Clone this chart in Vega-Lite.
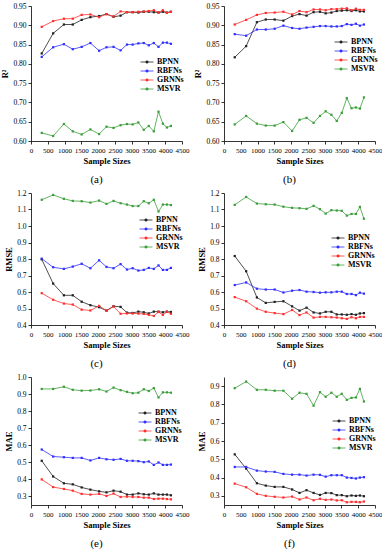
{
  "$schema": "https://vega.github.io/schema/vega-lite/v6.json",
  "padding": {"left": 0, "top": 2, "right": 0, "bottom": 2},
  "background": "white",
  "config": {
    "view": {"stroke": null},
    "font": "Liberation Serif",
    "axis": {"grid": false, "labelFont": "Liberation Serif", "labelFontSize": 7.5, "labelColor": "#000", "titleFont": "Liberation Serif", "titleFontSize": 8.5, "titleFontWeight": "bold", "titleColor": "#000", "domainColor": "#000", "tickColor": "#000", "tickSize": 3, "domainWidth": 0.8, "tickWidth": 0.8, "labelPadding": 2, "titlePadding": 3, "labelOverlap": false, "labelFlush": false},
    "axisX": {"labelFontSize": 7, "format": "d"},
    "legend": {"labelFont": "Liberation Serif", "labelFontSize": 8, "labelFontWeight": "bold", "labelColor": "#000", "symbolType": "M-2,0H2M-0.3,-0.3H0.3V0.3H-0.3Z", "symbolSize": 42, "symbolStrokeWidth": 0.8, "labelOffset": 6, "rowPadding": 1, "padding": 0},
    "title": {"font": "Liberation Serif", "fontSize": 11, "fontWeight": "normal", "color": "#000"}
  },
  "data": {"values": [
    {"p":"a","n":320,"BPNN":0.827,"RBFNs":0.818,"GRNNs":0.896,"MSVR":0.621},
    {"p":"a","n":660,"BPNN":0.879,"RBFNs":0.843,"GRNNs":0.911,"MSVR":0.613},
    {"p":"a","n":980,"BPNN":0.902,"RBFNs":0.851,"GRNNs":0.917,"MSVR":0.644},
    {"p":"a","n":1245,"BPNN":0.902,"RBFNs":0.838,"GRNNs":0.917,"MSVR":0.625},
    {"p":"a","n":1510,"BPNN":0.914,"RBFNs":0.844,"GRNNs":0.927,"MSVR":0.617},
    {"p":"a","n":1770,"BPNN":0.921,"RBFNs":0.854,"GRNNs":0.928,"MSVR":0.630},
    {"p":"a","n":2030,"BPNN":0.924,"RBFNs":0.834,"GRNNs":0.921,"MSVR":0.618},
    {"p":"a","n":2250,"BPNN":0.929,"RBFNs":0.843,"GRNNs":0.929,"MSVR":0.637},
    {"p":"a","n":2460,"BPNN":0.922,"RBFNs":0.844,"GRNNs":0.923,"MSVR":0.634},
    {"p":"a","n":2670,"BPNN":0.925,"RBFNs":0.835,"GRNNs":0.936,"MSVR":0.641},
    {"p":"a","n":2860,"BPNN":0.934,"RBFNs":0.850,"GRNNs":0.934,"MSVR":0.644},
    {"p":"a","n":3030,"BPNN":0.934,"RBFNs":0.850,"GRNNs":0.934,"MSVR":0.643},
    {"p":"a","n":3200,"BPNN":0.933,"RBFNs":0.853,"GRNNs":0.935,"MSVR":0.648},
    {"p":"a","n":3360,"BPNN":0.935,"RBFNs":0.854,"GRNNs":0.936,"MSVR":0.629},
    {"p":"a","n":3510,"BPNN":0.935,"RBFNs":0.848,"GRNNs":0.937,"MSVR":0.639},
    {"p":"a","n":3660,"BPNN":0.934,"RBFNs":0.854,"GRNNs":0.939,"MSVR":0.625},
    {"p":"a","n":3800,"BPNN":0.933,"RBFNs":0.844,"GRNNs":0.933,"MSVR":0.676},
    {"p":"a","n":3930,"BPNN":0.935,"RBFNs":0.855,"GRNNs":0.939,"MSVR":0.645},
    {"p":"a","n":4050,"BPNN":0.933,"RBFNs":0.855,"GRNNs":0.932,"MSVR":0.635},
    {"p":"a","n":4170,"BPNN":0.935,"RBFNs":0.852,"GRNNs":0.935,"MSVR":0.639},
    {"p":"b","n":320,"BPNN":0.817,"RBFNs":0.877,"GRNNs":0.902,"MSVR":0.643},
    {"p":"b","n":660,"BPNN":0.846,"RBFNs":0.873,"GRNNs":0.914,"MSVR":0.665},
    {"p":"b","n":980,"BPNN":0.908,"RBFNs":0.889,"GRNNs":0.927,"MSVR":0.645},
    {"p":"b","n":1245,"BPNN":0.915,"RBFNs":0.889,"GRNNs":0.932,"MSVR":0.640},
    {"p":"b","n":1510,"BPNN":0.915,"RBFNs":0.891,"GRNNs":0.933,"MSVR":0.640},
    {"p":"b","n":1770,"BPNN":0.912,"RBFNs":0.899,"GRNNs":0.935,"MSVR":0.649},
    {"p":"b","n":2030,"BPNN":0.924,"RBFNs":0.893,"GRNNs":0.928,"MSVR":0.626},
    {"p":"b","n":2250,"BPNN":0.929,"RBFNs":0.891,"GRNNs":0.937,"MSVR":0.655},
    {"p":"b","n":2460,"BPNN":0.925,"RBFNs":0.894,"GRNNs":0.934,"MSVR":0.660},
    {"p":"b","n":2670,"BPNN":0.934,"RBFNs":0.896,"GRNNs":0.941,"MSVR":0.647},
    {"p":"b","n":2860,"BPNN":0.935,"RBFNs":0.898,"GRNNs":0.941,"MSVR":0.665},
    {"p":"b","n":3030,"BPNN":0.931,"RBFNs":0.898,"GRNNs":0.939,"MSVR":0.677},
    {"p":"b","n":3200,"BPNN":0.933,"RBFNs":0.897,"GRNNs":0.942,"MSVR":0.668},
    {"p":"b","n":3360,"BPNN":0.937,"RBFNs":0.897,"GRNNs":0.942,"MSVR":0.652},
    {"p":"b","n":3510,"BPNN":0.938,"RBFNs":0.898,"GRNNs":0.943,"MSVR":0.673},
    {"p":"b","n":3660,"BPNN":0.939,"RBFNs":0.903,"GRNNs":0.944,"MSVR":0.711},
    {"p":"b","n":3800,"BPNN":0.937,"RBFNs":0.901,"GRNNs":0.939,"MSVR":0.685},
    {"p":"b","n":3930,"BPNN":0.939,"RBFNs":0.904,"GRNNs":0.943,"MSVR":0.687},
    {"p":"b","n":4050,"BPNN":0.936,"RBFNs":0.899,"GRNNs":0.940,"MSVR":0.684},
    {"p":"b","n":4170,"BPNN":0.936,"RBFNs":0.902,"GRNNs":0.940,"MSVR":0.713},
    {"p":"c","n":320,"BPNN":0.798,"RBFNs":0.802,"GRNNs":0.593,"MSVR":1.159},
    {"p":"c","n":660,"BPNN":0.651,"RBFNs":0.750,"GRNNs":0.553,"MSVR":1.188},
    {"p":"c","n":980,"BPNN":0.580,"RBFNs":0.740,"GRNNs":0.530,"MSVR":1.165},
    {"p":"c","n":1245,"BPNN":0.580,"RBFNs":0.754,"GRNNs":0.524,"MSVR":1.152},
    {"p":"c","n":1510,"BPNN":0.541,"RBFNs":0.771,"GRNNs":0.493,"MSVR":1.150},
    {"p":"c","n":1770,"BPNN":0.520,"RBFNs":0.744,"GRNNs":0.488,"MSVR":1.142},
    {"p":"c","n":2030,"BPNN":0.508,"RBFNs":0.792,"GRNNs":0.516,"MSVR":1.154},
    {"p":"c","n":2250,"BPNN":0.487,"RBFNs":0.752,"GRNNs":0.487,"MSVR":1.134},
    {"p":"c","n":2460,"BPNN":0.514,"RBFNs":0.744,"GRNNs":0.512,"MSVR":1.152},
    {"p":"c","n":2670,"BPNN":0.510,"RBFNs":0.769,"GRNNs":0.468,"MSVR":1.138},
    {"p":"c","n":2860,"BPNN":0.475,"RBFNs":0.736,"GRNNs":0.470,"MSVR":1.130},
    {"p":"c","n":3030,"BPNN":0.473,"RBFNs":0.744,"GRNNs":0.470,"MSVR":1.121},
    {"p":"c","n":3200,"BPNN":0.481,"RBFNs":0.730,"GRNNs":0.469,"MSVR":1.121},
    {"p":"c","n":3360,"BPNN":0.477,"RBFNs":0.734,"GRNNs":0.467,"MSVR":1.150},
    {"p":"c","n":3510,"BPNN":0.470,"RBFNs":0.746,"GRNNs":0.462,"MSVR":1.138},
    {"p":"c","n":3660,"BPNN":0.481,"RBFNs":0.740,"GRNNs":0.455,"MSVR":1.159},
    {"p":"c","n":3800,"BPNN":0.481,"RBFNs":0.761,"GRNNs":0.479,"MSVR":1.088},
    {"p":"c","n":3930,"BPNN":0.477,"RBFNs":0.734,"GRNNs":0.461,"MSVR":1.130},
    {"p":"c","n":4050,"BPNN":0.481,"RBFNs":0.734,"GRNNs":0.480,"MSVR":1.130},
    {"p":"c","n":4170,"BPNN":0.479,"RBFNs":0.746,"GRNNs":0.468,"MSVR":1.127},
    {"p":"d","n":320,"BPNN":0.818,"RBFNs":0.642,"GRNNs":0.569,"MSVR":1.128},
    {"p":"d","n":660,"BPNN":0.726,"RBFNs":0.658,"GRNNs":0.544,"MSVR":1.176},
    {"p":"d","n":980,"BPNN":0.567,"RBFNs":0.620,"GRNNs":0.499,"MSVR":1.136},
    {"p":"d","n":1245,"BPNN":0.534,"RBFNs":0.615,"GRNNs":0.480,"MSVR":1.132},
    {"p":"d","n":1510,"BPNN":0.540,"RBFNs":0.615,"GRNNs":0.472,"MSVR":1.130},
    {"p":"d","n":1770,"BPNN":0.544,"RBFNs":0.597,"GRNNs":0.466,"MSVR":1.117},
    {"p":"d","n":2030,"BPNN":0.513,"RBFNs":0.608,"GRNNs":0.491,"MSVR":1.110},
    {"p":"d","n":2250,"BPNN":0.487,"RBFNs":0.612,"GRNNs":0.460,"MSVR":1.108},
    {"p":"d","n":2460,"BPNN":0.505,"RBFNs":0.602,"GRNNs":0.476,"MSVR":1.104},
    {"p":"d","n":2670,"BPNN":0.476,"RBFNs":0.600,"GRNNs":0.445,"MSVR":1.122},
    {"p":"d","n":2860,"BPNN":0.470,"RBFNs":0.596,"GRNNs":0.449,"MSVR":1.102},
    {"p":"d","n":3030,"BPNN":0.480,"RBFNs":0.598,"GRNNs":0.449,"MSVR":1.075},
    {"p":"d","n":3200,"BPNN":0.480,"RBFNs":0.598,"GRNNs":0.447,"MSVR":1.096},
    {"p":"d","n":3360,"BPNN":0.464,"RBFNs":0.602,"GRNNs":0.445,"MSVR":1.094},
    {"p":"d","n":3510,"BPNN":0.464,"RBFNs":0.602,"GRNNs":0.441,"MSVR":1.092},
    {"p":"d","n":3660,"BPNN":0.462,"RBFNs":0.588,"GRNNs":0.437,"MSVR":1.063},
    {"p":"d","n":3800,"BPNN":0.466,"RBFNs":0.588,"GRNNs":0.447,"MSVR":1.073},
    {"p":"d","n":3930,"BPNN":0.462,"RBFNs":0.581,"GRNNs":0.441,"MSVR":1.073},
    {"p":"d","n":4050,"BPNN":0.470,"RBFNs":0.596,"GRNNs":0.449,"MSVR":1.116},
    {"p":"d","n":4170,"BPNN":0.472,"RBFNs":0.590,"GRNNs":0.449,"MSVR":1.044},
    {"p":"e","n":320,"BPNN":0.509,"RBFNs":0.575,"GRNNs":0.400,"MSVR":0.930},
    {"p":"e","n":660,"BPNN":0.417,"RBFNs":0.534,"GRNNs":0.355,"MSVR":0.930},
    {"p":"e","n":980,"BPNN":0.377,"RBFNs":0.530,"GRNNs":0.344,"MSVR":0.943},
    {"p":"e","n":1245,"BPNN":0.371,"RBFNs":0.526,"GRNNs":0.334,"MSVR":0.925},
    {"p":"e","n":1510,"BPNN":0.353,"RBFNs":0.526,"GRNNs":0.315,"MSVR":0.920},
    {"p":"e","n":1770,"BPNN":0.340,"RBFNs":0.511,"GRNNs":0.311,"MSVR":0.921},
    {"p":"e","n":2030,"BPNN":0.330,"RBFNs":0.526,"GRNNs":0.315,"MSVR":0.928},
    {"p":"e","n":2250,"BPNN":0.324,"RBFNs":0.518,"GRNNs":0.303,"MSVR":0.915},
    {"p":"e","n":2460,"BPNN":0.334,"RBFNs":0.515,"GRNNs":0.317,"MSVR":0.938},
    {"p":"e","n":2670,"BPNN":0.328,"RBFNs":0.520,"GRNNs":0.297,"MSVR":0.923},
    {"p":"e","n":2860,"BPNN":0.311,"RBFNs":0.509,"GRNNs":0.299,"MSVR":0.913},
    {"p":"e","n":3030,"BPNN":0.311,"RBFNs":0.509,"GRNNs":0.297,"MSVR":0.905},
    {"p":"e","n":3200,"BPNN":0.318,"RBFNs":0.507,"GRNNs":0.297,"MSVR":0.908},
    {"p":"e","n":3360,"BPNN":0.313,"RBFNs":0.501,"GRNNs":0.293,"MSVR":0.928},
    {"p":"e","n":3510,"BPNN":0.311,"RBFNs":0.505,"GRNNs":0.293,"MSVR":0.918},
    {"p":"e","n":3660,"BPNN":0.318,"RBFNs":0.485,"GRNNs":0.285,"MSVR":0.935},
    {"p":"e","n":3800,"BPNN":0.311,"RBFNs":0.499,"GRNNs":0.287,"MSVR":0.880},
    {"p":"e","n":3930,"BPNN":0.311,"RBFNs":0.485,"GRNNs":0.287,"MSVR":0.910},
    {"p":"e","n":4050,"BPNN":0.311,"RBFNs":0.485,"GRNNs":0.285,"MSVR":0.910},
    {"p":"e","n":4170,"BPNN":0.307,"RBFNs":0.487,"GRNNs":0.283,"MSVR":0.908},
    {"p":"f","n":320,"BPNN":0.527,"RBFNs":0.458,"GRNNs":0.367,"MSVR":0.889},
    {"p":"f","n":660,"BPNN":0.449,"RBFNs":0.458,"GRNNs":0.347,"MSVR":0.925},
    {"p":"f","n":980,"BPNN":0.369,"RBFNs":0.438,"GRNNs":0.311,"MSVR":0.880},
    {"p":"f","n":1245,"BPNN":0.356,"RBFNs":0.433,"GRNNs":0.300,"MSVR":0.880},
    {"p":"f","n":1510,"BPNN":0.349,"RBFNs":0.431,"GRNNs":0.295,"MSVR":0.875},
    {"p":"f","n":1770,"BPNN":0.349,"RBFNs":0.420,"GRNNs":0.291,"MSVR":0.875},
    {"p":"f","n":2030,"BPNN":0.335,"RBFNs":0.416,"GRNNs":0.296,"MSVR":0.831},
    {"p":"f","n":2250,"BPNN":0.316,"RBFNs":0.416,"GRNNs":0.280,"MSVR":0.864},
    {"p":"f","n":2460,"BPNN":0.331,"RBFNs":0.411,"GRNNs":0.291,"MSVR":0.858},
    {"p":"f","n":2670,"BPNN":0.316,"RBFNs":0.416,"GRNNs":0.276,"MSVR":0.793},
    {"p":"f","n":2860,"BPNN":0.305,"RBFNs":0.415,"GRNNs":0.284,"MSVR":0.867},
    {"p":"f","n":3030,"BPNN":0.316,"RBFNs":0.405,"GRNNs":0.278,"MSVR":0.842},
    {"p":"f","n":3200,"BPNN":0.315,"RBFNs":0.413,"GRNNs":0.280,"MSVR":0.864},
    {"p":"f","n":3360,"BPNN":0.304,"RBFNs":0.413,"GRNNs":0.275,"MSVR":0.842},
    {"p":"f","n":3510,"BPNN":0.304,"RBFNs":0.413,"GRNNs":0.276,"MSVR":0.858},
    {"p":"f","n":3660,"BPNN":0.298,"RBFNs":0.400,"GRNNs":0.265,"MSVR":0.825},
    {"p":"f","n":3800,"BPNN":0.302,"RBFNs":0.398,"GRNNs":0.267,"MSVR":0.836},
    {"p":"f","n":3930,"BPNN":0.300,"RBFNs":0.395,"GRNNs":0.267,"MSVR":0.838},
    {"p":"f","n":4050,"BPNN":0.302,"RBFNs":0.400,"GRNNs":0.265,"MSVR":0.885},
    {"p":"f","n":4170,"BPNN":0.298,"RBFNs":0.402,"GRNNs":0.269,"MSVR":0.816}
  ]},
  "columns": 2,
  "bounds": "flush",
  "align": "each",
  "spacing": {"row": 52, "column": 42},
  "resolve": {"scale": {"x": "independent", "y": "independent", "color": "independent"}, "legend": {"color": "independent"}},
  "concat": [
    {
      "width": 151, "height": 135,
      "title": {"text": "(a)", "orient": "bottom", "offset": 9, "dx": -10},
      "transform": [{"filter": "datum.p == 'a'"}, {"fold": ["BPNN", "RBFNs", "GRNNs", "MSVR"], "as": ["m", "v"]}],
      "encoding": {
        "x": {"field": "n", "type": "quantitative", "scale": {"domain": [0, 4500]}, "axis": {"title": "Sample Sizes", "values": [0,500,1000,1500,2000,2500,3000,3500,4000,4500]}},
        "y": {"field": "v", "type": "quantitative", "scale": {"domain": [0.6, 0.95], "zero": false}, "axis": {"title": "R²", "values": [0.6,0.65,0.7,0.75,0.8,0.85,0.9,0.95], "format": ".2f"}},
        "color": {"field": "m", "type": "nominal", "sort": ["BPNN", "RBFNs", "GRNNs", "MSVR"], "scale": {"domain": ["BPNN", "RBFNs", "GRNNs", "MSVR"], "range": ["#222222", "#3030ff", "#ff3030", "#3c9f3c"]}, "legend": {"orient": "none", "legendX": 112, "legendY": 52, "title": null}}
      },
      "layer": [
        {"mark": {"type": "line", "strokeWidth": 0.8}},
        {"mark": {"type": "point", "shape": "square", "filled": true, "size": 5, "opacity": 1}}
      ]
    },
    {
      "width": 151, "height": 135,
      "title": {"text": "(b)", "orient": "bottom", "offset": 9, "dx": -10},
      "transform": [{"filter": "datum.p == 'b'"}, {"fold": ["BPNN", "RBFNs", "GRNNs", "MSVR"], "as": ["m", "v"]}],
      "encoding": {
        "x": {"field": "n", "type": "quantitative", "scale": {"domain": [0, 4500]}, "axis": {"title": "Sample Sizes", "values": [0,500,1000,1500,2000,2500,3000,3500,4000,4500]}},
        "y": {"field": "v", "type": "quantitative", "scale": {"domain": [0.6, 0.95], "zero": false}, "axis": {"title": "R²", "values": [0.6,0.65,0.7,0.75,0.8,0.85,0.9,0.95], "format": ".2f"}},
        "color": {"field": "m", "type": "nominal", "sort": ["BPNN", "RBFNs", "GRNNs", "MSVR"], "scale": {"domain": ["BPNN", "RBFNs", "GRNNs", "MSVR"], "range": ["#222222", "#3030ff", "#ff3030", "#3c9f3c"]}, "legend": {"orient": "none", "legendX": 113, "legendY": 32, "title": null}}
      },
      "layer": [
        {"mark": {"type": "line", "strokeWidth": 0.8}},
        {"mark": {"type": "point", "shape": "square", "filled": true, "size": 5, "opacity": 1}}
      ]
    },
    {
      "width": 151, "height": 132,
      "title": {"text": "(c)", "orient": "bottom", "offset": 9, "dx": -10},
      "transform": [{"filter": "datum.p == 'c'"}, {"fold": ["BPNN", "RBFNs", "GRNNs", "MSVR"], "as": ["m", "v"]}],
      "encoding": {
        "x": {"field": "n", "type": "quantitative", "scale": {"domain": [0, 4500]}, "axis": {"title": "Sample Sizes", "values": [0,500,1000,1500,2000,2500,3000,3500,4000,4500]}},
        "y": {"field": "v", "type": "quantitative", "scale": {"domain": [0.4, 1.2], "zero": false}, "axis": {"title": "RMSE", "values": [0.4,0.5,0.6,0.7,0.8,0.9,1.0,1.1,1.2], "format": ".1f"}},
        "color": {"field": "m", "type": "nominal", "sort": ["BPNN", "RBFNs", "GRNNs", "MSVR"], "scale": {"domain": ["BPNN", "RBFNs", "GRNNs", "MSVR"], "range": ["#222222", "#3030ff", "#ff3030", "#3c9f3c"]}, "legend": {"orient": "none", "legendX": 111, "legendY": 23, "title": null}}
      },
      "layer": [
        {"mark": {"type": "line", "strokeWidth": 0.8}},
        {"mark": {"type": "point", "shape": "square", "filled": true, "size": 5, "opacity": 1}}
      ]
    },
    {
      "width": 151, "height": 132,
      "title": {"text": "(d)", "orient": "bottom", "offset": 9, "dx": -10},
      "transform": [{"filter": "datum.p == 'd'"}, {"fold": ["BPNN", "RBFNs", "GRNNs", "MSVR"], "as": ["m", "v"]}],
      "encoding": {
        "x": {"field": "n", "type": "quantitative", "scale": {"domain": [0, 4500]}, "axis": {"title": "Sample Sizes", "values": [0,500,1000,1500,2000,2500,3000,3500,4000,4500]}},
        "y": {"field": "v", "type": "quantitative", "scale": {"domain": [0.4, 1.2], "zero": false}, "axis": {"title": "RMSE", "values": [0.4,0.5,0.6,0.7,0.8,0.9,1.0,1.1,1.2], "format": ".1f"}},
        "color": {"field": "m", "type": "nominal", "sort": ["BPNN", "RBFNs", "GRNNs", "MSVR"], "scale": {"domain": ["BPNN", "RBFNs", "GRNNs", "MSVR"], "range": ["#222222", "#3030ff", "#ff3030", "#3c9f3c"]}, "legend": {"orient": "none", "legendX": 110, "legendY": 41, "title": null}}
      },
      "layer": [
        {"mark": {"type": "line", "strokeWidth": 0.8}},
        {"mark": {"type": "point", "shape": "square", "filled": true, "size": 5, "opacity": 1}}
      ]
    },
    {
      "width": 151, "height": 128,
      "title": {"text": "(e)", "orient": "bottom", "offset": 9, "dx": -10},
      "transform": [{"filter": "datum.p == 'e'"}, {"fold": ["BPNN", "RBFNs", "GRNNs", "MSVR"], "as": ["m", "v"]}],
      "encoding": {
        "x": {"field": "n", "type": "quantitative", "scale": {"domain": [0, 4500]}, "axis": {"title": "Sample Sizes", "values": [0,500,1000,1500,2000,2500,3000,3500,4000,4500]}},
        "y": {"field": "v", "type": "quantitative", "scale": {"domain": [0.25, 1.0], "zero": false}, "axis": {"title": "MAE", "values": [0.3,0.4,0.5,0.6,0.7,0.8,0.9,1.0], "format": ".1f"}},
        "color": {"field": "m", "type": "nominal", "sort": ["BPNN", "RBFNs", "GRNNs", "MSVR"], "scale": {"domain": ["BPNN", "RBFNs", "GRNNs", "MSVR"], "range": ["#222222", "#3030ff", "#ff3030", "#3c9f3c"]}, "legend": {"orient": "none", "legendX": 110, "legendY": 32, "title": null}}
      },
      "layer": [
        {"mark": {"type": "line", "strokeWidth": 0.8}},
        {"mark": {"type": "point", "shape": "square", "filled": true, "size": 5, "opacity": 1}}
      ]
    },
    {
      "width": 151, "height": 128,
      "title": {"text": "(f)", "orient": "bottom", "offset": 9, "dx": -10},
      "transform": [{"filter": "datum.p == 'f'"}, {"fold": ["BPNN", "RBFNs", "GRNNs", "MSVR"], "as": ["m", "v"]}],
      "encoding": {
        "x": {"field": "n", "type": "quantitative", "scale": {"domain": [0, 4500]}, "axis": {"title": "Sample Sizes", "values": [0,500,1000,1500,2000,2500,3000,3500,4000,4500]}},
        "y": {"field": "v", "type": "quantitative", "scale": {"domain": [0.25, 0.95], "zero": false}, "axis": {"title": "MAE", "values": [0.3,0.4,0.5,0.6,0.7,0.8,0.9], "format": ".1f"}},
        "color": {"field": "m", "type": "nominal", "sort": ["BPNN", "RBFNs", "GRNNs", "MSVR"], "scale": {"domain": ["BPNN", "RBFNs", "GRNNs", "MSVR"], "range": ["#222222", "#3030ff", "#ff3030", "#3c9f3c"]}, "legend": {"orient": "none", "legendX": 111, "legendY": 40, "title": null}}
      },
      "layer": [
        {"mark": {"type": "line", "strokeWidth": 0.8}},
        {"mark": {"type": "point", "shape": "square", "filled": true, "size": 5, "opacity": 1}}
      ]
    }
  ]
}
